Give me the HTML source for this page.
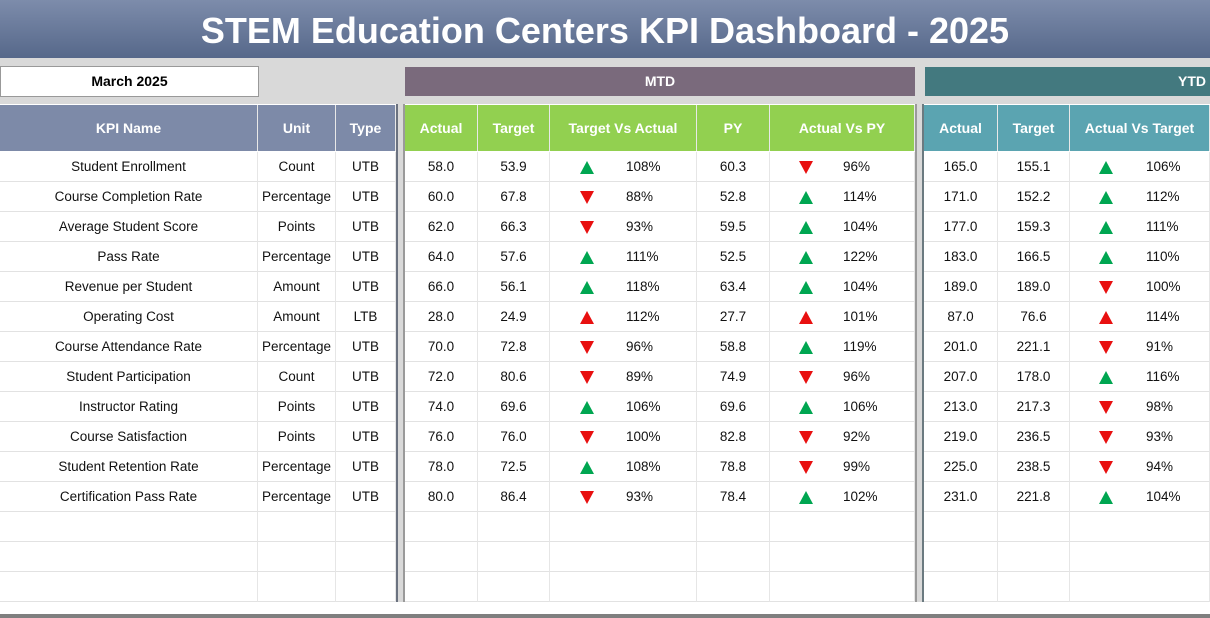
<!DOCTYPE html>
<html><head><meta charset="utf-8">
<style>
body{margin:0;width:1210px;height:618px;overflow:hidden;background:#fff;font-family:"Liberation Sans",sans-serif;position:relative}
div{box-sizing:border-box}
.abs{position:absolute}
#title{left:0;top:0;width:1210px;height:58px;background:linear-gradient(#7d8cab,#56688a);color:#fff;font-weight:bold;font-size:36px;text-align:center;line-height:62px}
.band{top:58px;height:46px;background:#d9d9d9}
.hd{position:absolute;top:105px;height:46px;color:#fff;font-weight:bold;font-size:14px;display:flex;align-items:center;justify-content:center;border-right:1px solid #e8e8e8}
.cell{position:absolute;height:30px;line-height:30px;font-size:13.5px;color:#111;text-align:center;border-bottom:1px solid #e2e2e2;border-right:1px solid #e6e6e6}
.tri{position:absolute;width:0;height:0;border-left:7px solid transparent;border-right:7px solid transparent}
.up{border-bottom:13px solid #00a651}
.upr{border-bottom:13px solid #e81010}
.dn{border-top:13px solid #e81010}
.pct{position:absolute;height:30px;line-height:30px;font-size:13.5px;color:#111}
</style></head><body>
<div id="title" class="abs">STEM Education Centers KPI Dashboard - 2025</div>
<div class="abs band" style="left:0;width:1210px"></div>
<div class="abs" style="left:0;top:66px;width:259px;height:31px;background:#fff;border:1px solid #999;font-weight:bold;font-size:14px;text-align:center;line-height:29px">March 2025</div>
<div class="abs" style="left:405px;top:67px;width:510px;height:29px;background:#7a6a7c;color:#fff;font-weight:bold;font-size:14px;text-align:center;line-height:29px">MTD</div>
<div class="abs" style="left:925px;top:67px;width:285px;height:29px;background:#43797f;color:#fff;font-weight:bold;font-size:14px;text-align:right;padding-right:4px;line-height:29px">YTD</div>
<div class="abs" style="left:396px;top:104px;width:2px;height:498px;background:#6b7280"></div>
<div class="abs" style="left:398px;top:104px;width:5px;height:498px;background:#d9d9d9"></div>
<div class="abs" style="left:403px;top:104px;width:2px;height:498px;background:#9a9a9a"></div>
<div class="abs" style="left:915px;top:104px;width:2px;height:498px;background:#9a9a9a"></div>
<div class="abs" style="left:917px;top:104px;width:5px;height:498px;background:#d9d9d9"></div>
<div class="abs" style="left:922px;top:104px;width:2px;height:498px;background:#6b7a80"></div>
<div class="abs" style="left:0;top:614px;width:1210px;height:4px;background:#7f7f7f"></div>
<div id="grid"></div>
<script>
const kpis=["Student Enrollment","Course Completion Rate","Average Student Score","Pass Rate","Revenue per Student","Operating Cost","Course Attendance Rate","Student Participation","Instructor Rating","Course Satisfaction","Student Retention Rate","Certification Pass Rate"];
const units=["Count","Percentage","Points","Percentage","Amount","Amount","Percentage","Count","Points","Points","Percentage","Percentage"];
const types=["UTB","UTB","UTB","UTB","UTB","LTB","UTB","UTB","UTB","UTB","UTB","UTB"];
const mtdActual=[58.0,60.0,62.0,64.0,66.0,28.0,70.0,72.0,74.0,76.0,78.0,80.0];
const mtdTarget=[53.9,67.8,66.3,57.6,56.1,24.9,72.8,80.6,69.6,76.0,72.5,86.4];
const mtdTvA=[108,88,93,111,118,112,96,89,106,100,108,93];
const mtdPY=[60.3,52.8,59.5,52.5,63.4,27.7,58.8,74.9,69.6,82.8,78.8,78.4];
const mtdAvPY=[96,114,104,122,104,101,119,96,106,92,99,102];
const ytdActual=[165.0,171.0,177.0,183.0,189.0,87.0,201.0,207.0,213.0,219.0,225.0,231.0];
const ytdTarget=[155.1,152.2,159.3,166.5,189.0,76.6,221.1,178.0,217.3,236.5,238.5,221.8];
const ytdAvT=[106,112,111,110,100,114,91,116,98,93,94,104];
const g=document.getElementById('grid');
function add(html){const d=document.createElement('div');d.innerHTML=html;const el=d.firstChild;g.appendChild(el);return el;}
const heads=[["KPI Name",0,258,"#7d8aa8"],["Unit",258,78,"#7d8aa8"],["Type",336,60,"#7d8aa8"],
["Actual",405,73,"#92d050"],["Target",478,72,"#92d050"],["Target Vs Actual",550,147,"#92d050"],["PY",697,73,"#92d050"],["Actual Vs PY",770,145,"#92d050"],
["Actual",924,74,"#5ba4b1"],["Target",998,72,"#5ba4b1"],["Actual Vs Target",1070,140,"#5ba4b1"]];
heads.forEach(h=>{const e=add(`<div class="hd" style="left:${h[1]}px;width:${h[2]}px;background:${h[3]}">${h[0]}</div>`);

});
const cols=[[0,258],[258,78],[336,60],[405,73],[478,72],[550,147],[697,73],[770,145],[924,74],[998,72],[1070,140]];
function arrow(x,y,good,up){let c=up?(good?'up':'upr'):'dn';
const e=add(`<div class="tri ${c}" style="left:${x}px;top:${y+9}px"></div>`);

}
for(let r=0;r<15;r++){const y=152+r*30;
 const vals=r<12?[kpis[r],units[r],types[r],mtdActual[r].toFixed(1),mtdTarget[r].toFixed(1),'',mtdPY[r].toFixed(1),'',ytdActual[r].toFixed(1),ytdTarget[r].toFixed(1),'']:Array(11).fill('');
 cols.forEach((c,i)=>{const e=add(`<div class="cell" style="left:${c[0]}px;top:${y}px;width:${c[1]}px">${vals[i]}</div>`);
 
 });
 if(r<12){const lower=types[r]==='LTB';
  const sets=[[mtdTvA[r],580,626],[mtdAvPY[r],799,843],[ytdAvT[r],1099,1146]];
  sets.forEach(s=>{const up=s[0]>100;arrow(s[1],y,!lower,up);
   const p=add(`<div class="pct" style="left:${s[2]}px;top:${y}px">${s[0]}%</div>`);
   
   });}
}
</script>
</body></html>
